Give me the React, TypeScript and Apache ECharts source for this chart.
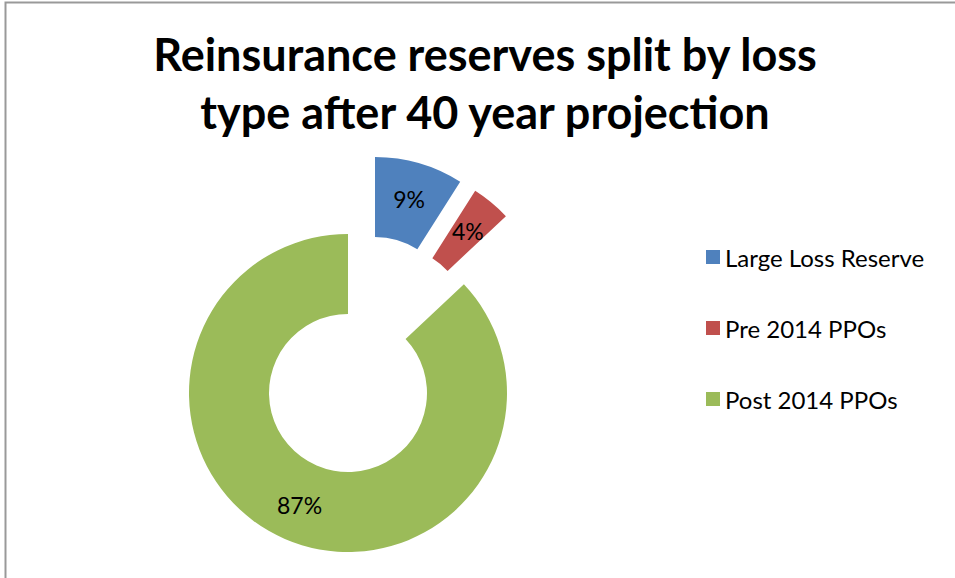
import React, { useEffect, useRef } from "react";
import * as echarts from "echarts";

const categories = ["Large Loss Reserve", "Pre 2014 PPOs", "Post 2014 PPOs"];
const shares = [9, 4, 87];
const colors = ["#4F81BD", "#C0504D", "#9BBB59"];
// exploded slice offsets (px) relative to the main donut centre
const offsets: [number, number][] = [
  [27, -77],
  [42, -68],
  [0, 0],
];
const titleText = "Reinsurance reserves split by loss\ntype after 40 year projection";

const FONT = "Lato, 'Noto Sans', sans-serif";

export default function App() {
  const ref = useRef<HTMLDivElement>(null);
  useEffect(() => {
    if (!ref.current) return;
    const chart = echarts.init(ref.current, null, { renderer: "svg" });
    const cx = 348;
    const cy = 393;
    const series = categories.map((name, si) => ({
      type: "pie",
      name,
      silent: true,
      radius: [79, 159],
      center: [cx + offsets[si][0], cy + offsets[si][1]],
      startAngle: 90,
      clockwise: true,
      avoidLabelOverlap: false,
      emphasis: { disabled: true },
      labelLine: { show: false },
      data: categories.map((n, i) => ({
        name: n,
        value: shares[i],
        itemStyle:
          i === si
            ? { color: colors[i], borderWidth: 0 }
            : { color: "rgba(0,0,0,0)", borderWidth: 0 },
        label:
          i === si
            ? {
                show: true,
                position: "inside",
                formatter: "{c}%",
                color: "#000",
                fontSize: 23,
                fontFamily: FONT,
              }
            : { show: false },
      })),
    }));
    chart.setOption({
      animation: false,
      backgroundColor: "#fff",
      legend: {
        orient: "vertical",
        left: 701,
        top: 239,
        itemWidth: 14,
        itemHeight: 14,
        itemGap: 45,
        icon: "rect",
        selectedMode: false,
        data: categories.map((n, i) => ({ name: n, itemStyle: { color: colors[i] } })),
        textStyle: {
          fontSize: 24,
          lineHeight: 26,
          fontFamily: FONT,
          color: "#000",
        },
      },
      graphic: [
        {
          type: "rect",
          shape: { x: 5.5, y: 2.5, width: 1000, height: 1000 },
          style: { fill: "none", stroke: "#999", lineWidth: 2 },
          silent: true,
        },
        {
          type: "text",
          x: 485,
          y: 25,
          style: {
            text: titleText,
            fontSize: 45,
            fontWeight: "bold",
            fontFamily: FONT,
            lineHeight: 58,
            align: "center",
            verticalAlign: "top",
            fill: "#000",
          },
          silent: true,
        },
      ],
      series,
    });
    return () => chart.dispose();
  }, []);
  return (
    <div
      ref={ref}
      style={{ position: "absolute", left: 0, top: 0, width: 955, height: 578 }}
    />
  );
}
